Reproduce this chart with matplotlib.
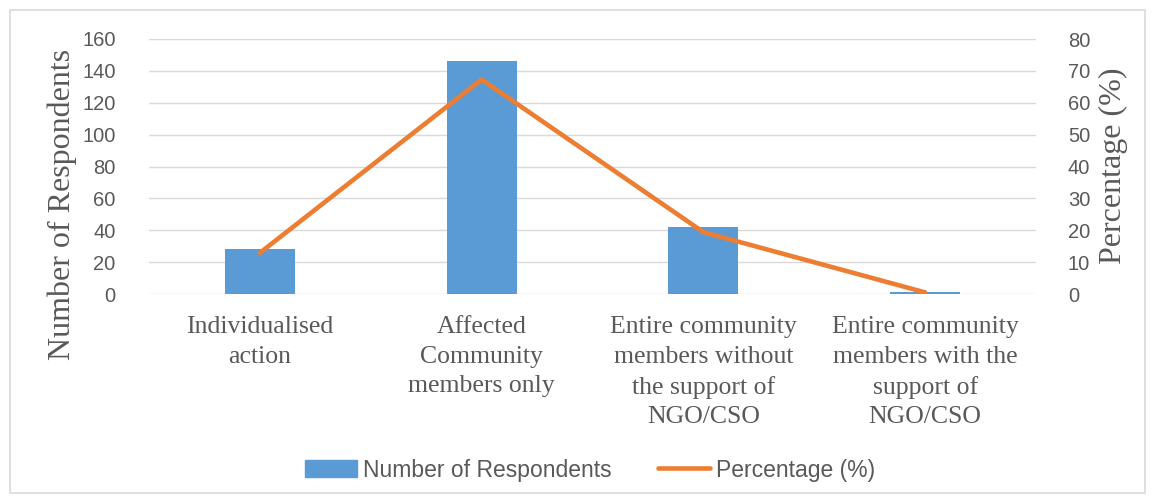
import matplotlib.pyplot as plt
from matplotlib.patches import Rectangle
from matplotlib.lines import Line2D

# survey results
categories = ["Individualised\naction",
              "Affected\nCommunity\nmembers only",
              "Entire community\nmembers without\nthe support of\nNGO/CSO",
              "Entire community\nmembers with the\nsupport of\nNGO/CSO"]
respondents = [28, 146, 42, 1]
percentage = [12.9, 67.3, 19.4, 0.5]

bar_col = "#5b9bd5"
line_col = "#ed7d31"
txt_col = "#595959"
grid_col = "#d9d9d9"

W, H = 1155, 503
fig = plt.figure(figsize=(W / 100, H / 100), dpi=100)

# light frame round the whole chart
fig.patches.append(Rectangle((10 / W, 10 / H), 1 - 20 / W, 1 - 20 / H,
                             transform=fig.transFigure, fill=False,
                             edgecolor=grid_col, lw=1.2))

ax = fig.add_axes([149 / W, 1 - 294 / H, (1036 - 149) / W, 255 / H])
x = list(range(len(categories)))
ax.bar(x, respondents, width=0.315, color=bar_col, zorder=2)
ax.set_xlim(-0.5, len(categories) - 0.5)
ax.set_ylim(0, 160)
ax.set_yticks(range(0, 161, 20))
ax.set_xticks(x)
ax.set_xticklabels(categories, family="Liberation Serif", fontsize=18.5,
                   color=txt_col, linespacing=1.44)
ax.grid(axis="y", color=grid_col, lw=1.0)
ax.set_axisbelow(True)
for s in ax.spines.values():
    s.set_visible(False)
ax.tick_params(axis="both", length=0)
ax.tick_params(axis="x", pad=16)
ax.tick_params(axis="y", pad=24, labelsize=14.5, labelcolor=txt_col)
for t in ax.get_yticklabels():
    t.set_family("Liberation Sans")
ax.set_ylabel("Number of Respondents", family="Liberation Serif",
              fontsize=23, color=txt_col)
ax.yaxis.set_label_coords(-0.098, 0.353)
ax.yaxis.label.set_va("center")

ax2 = ax.twinx()
ax2.plot(x, percentage, color=line_col, lw=3.3, solid_capstyle="round",
         solid_joinstyle="round", zorder=3)
ax2.set_ylim(0, 80)
ax2.set_yticks(range(0, 81, 10))
for s in ax2.spines.values():
    s.set_visible(False)
ax2.tick_params(axis="y", length=0, pad=23, labelsize=14.5, labelcolor=txt_col)
for t in ax2.get_yticklabels():
    t.set_family("Liberation Sans")
ax2.set_ylabel("Percentage (%)", family="Liberation Serif", fontsize=23,
               color=txt_col)
ax2.yaxis.set_label_coords(1.087, 0.502)
ax2.yaxis.label.set_va("center")

handles = [Rectangle((0, 0), 1, 1, color=bar_col),
           Line2D([], [], color=line_col, lw=3.3, solid_capstyle="round")]
fig.legend(handles, ["Number of Respondents", "Percentage (%)"],
           loc="center", bbox_to_anchor=(590 / W, 1 - 470 / H), ncol=2,
           frameon=False, prop={"family": "Liberation Sans", "size": 16.5},
           labelcolor=txt_col, handlelength=2.26, handletextpad=0.26,
           columnspacing=2.06)

fig.savefig("out.png", dpi=100)
